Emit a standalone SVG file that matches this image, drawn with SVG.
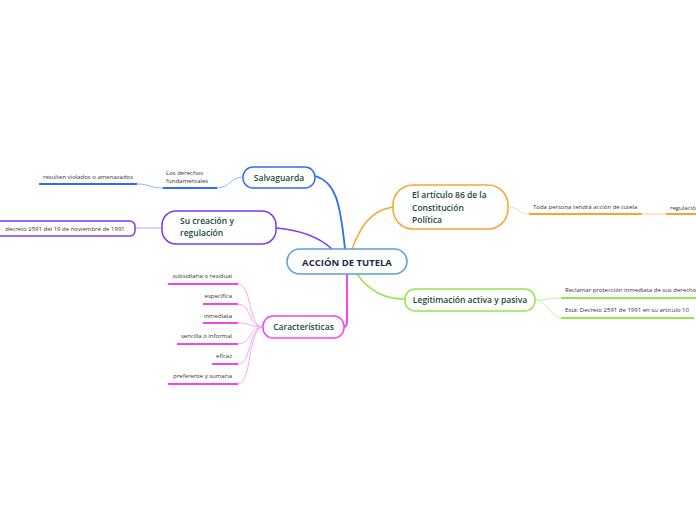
<svg xmlns="http://www.w3.org/2000/svg" width="696" height="520" viewBox="0 0 696 520">
<style>
.bg{fill:#fff}
.node{fill:#fff;stroke-width:1.5}
.t{font-family:"Open Sans","Noto Sans",sans-serif;font-size:8.5px;font-weight:600;fill:#17493a}
.tc{font-family:"Open Sans","Noto Sans",sans-serif;font-size:9.5px;font-weight:bold;fill:#1b2a4a}
.s{font-family:"Open Sans","Noto Sans",sans-serif;font-size:6px;fill:#333}
.c{fill:none}
</style>
<rect class="bg" width="696" height="520"/>
<g id="connectors">
<path class="c" d="M315,176 C335,182 340,200 345,249" stroke="#2f6ef2" stroke-width="1.8"/>
<path class="c" d="M276,228 C300,230 320,238 332,249" stroke="#7b3cf0" stroke-width="1.5"/>
<path class="c" d="M393,207 C370,210 360,228 352,249" stroke="#f7a531" stroke-width="1.5"/>
<path class="c" d="M357,274 C370,292 385,299 405,299" stroke="#93e84b" stroke-width="1.5"/>
<path class="c" d="M347,274 L347,320 Q347,327 344,327" stroke="#f045f0" stroke-width="2"/>
<path class="c" d="M243,177 C230,177 230,188 217,188" stroke="#8fb0f5" stroke-width="1"/>
<path class="c" d="M163,188 C150,188 150,184 137,184" stroke="#8fb0f5" stroke-width="1"/>
<path class="c" d="M162,228 L135,228" stroke="#b69cf3" stroke-width="1"/>
<path class="c" d="M508,207 C520,207 518,214 529,214" stroke="#fbd9a6" stroke-width="1"/>
<path class="c" d="M642,214 L666,214" stroke="#fde5c2" stroke-width="2"/>
<path class="c" d="M535,300 C548,300 550,298 561,298" stroke="#c6f2a3" stroke-width="1"/>
<path class="c" d="M535,300 C548,300 550,318 561,318" stroke="#c6f2a3" stroke-width="1"/>
<g stroke="#f7a8f7" stroke-width="1" fill="none">
<path d="M263,327 C248,327 252,284 238,284"/>
<path d="M263,327 C248,327 252,304 238,304"/>
<path d="M263,327 C248,327 252,323 238,323"/>
<path d="M263,327 C248,327 252,344 238,344"/>
<path d="M263,327 C248,327 252,364 238,364"/>
<path d="M263,327 C248,327 252,384 238,384"/>
</g>
</g>
<g id="central">
<rect class="node" x="287" y="249" width="120" height="25" rx="12.5" stroke="#5aa0da"/>
<text class="tc" x="347" y="265.5" text-anchor="middle">ACCIÓN DE TUTELA</text>
</g>
<g id="salvaguarda">
<rect class="node" x="243" y="167" width="72" height="21" rx="10" stroke="#2f6ef2"/>
<text class="t" x="279" y="180.5" text-anchor="middle">Salvaguarda</text>
</g>
<g id="derechos">
<text class="s" x="166" y="175">Los derechos</text>
<text class="s" x="166" y="183">fundamentales</text>
<line x1="163" y1="188" x2="217" y2="188" stroke="#2f6ef2" stroke-width="2"/>
</g>
<g id="violados">
<text class="s" x="43" y="179">resulten violados o amenazados</text>
<line x1="39" y1="184" x2="137" y2="184" stroke="#2f6ef2" stroke-width="2"/>
</g>
<g id="creacion">
<rect class="node" x="162" y="211" width="114" height="33" rx="14" stroke="#7b3cf0"/>
<text class="t" x="180" y="223.5">Su creación y</text>
<text class="t" x="180" y="236">regulación</text>
</g>
<g id="decreto">
<rect class="node" x="-6" y="221" width="141" height="15" rx="5" stroke="#7b3cf0"/>
<text class="s" x="65" y="230.5" text-anchor="middle">decreto 2591 del 19 de noviembre de 1991</text>
</g>
<g id="articulo">
<rect class="node" x="393" y="185" width="115" height="44" rx="20" stroke="#f7a531"/>
<text class="t" x="412" y="198">El artículo 86 de la</text>
<text class="t" x="412" y="210.5">Constitución</text>
<text class="t" x="412" y="223">Política</text>
</g>
<g id="toda">
<text class="s" x="533" y="209">Toda persona tendrá acción de tutela</text>
<line x1="529" y1="214" x2="642" y2="214" stroke="#f7a531" stroke-width="2"/>
</g>
<g id="regulacion">
<text class="s" x="670" y="210">regulación</text>
<line x1="666" y1="214" x2="696" y2="214" stroke="#f7a531" stroke-width="2"/>
</g>
<g id="legitimacion">
<rect class="node" x="405" y="289" width="130" height="22" rx="10" stroke="#93e84b"/>
<text class="t" x="470" y="303" text-anchor="middle">Legitimación activa y pasiva</text>
</g>
<g id="reclamar">
<text class="s" x="565" y="292">Reclamar protección inmediata de sus derechos</text>
<line x1="561" y1="298" x2="696" y2="298" stroke="#93e84b" stroke-width="2"/>
</g>
<g id="esta">
<text class="s" x="565" y="312">Está: Decreto 2591 de 1991 en su artículo 10</text>
<line x1="561" y1="318" x2="694" y2="318" stroke="#93e84b" stroke-width="2"/>
</g>
<g id="caracteristicas">
<rect class="node" x="263" y="316" width="81" height="22" rx="10" stroke="#f045f0"/>
<text class="t" x="303.5" y="330" text-anchor="middle">Características</text>
</g>
<g id="subsidiaria">
<text class="s" x="232" y="278" text-anchor="end">subsidiaria o residual</text>
<line x1="168" y1="284" x2="238" y2="284" stroke="#f045f0" stroke-width="2"/>
</g>
<g id="especifica">
<text class="s" x="232" y="298" text-anchor="end">específica</text>
<line x1="203" y1="304" x2="238" y2="304" stroke="#f045f0" stroke-width="2"/>
</g>
<g id="inmediata">
<text class="s" x="232" y="317.5" text-anchor="end">inmediata</text>
<line x1="203" y1="323" x2="238" y2="323" stroke="#f045f0" stroke-width="2"/>
</g>
<g id="sencilla">
<text class="s" x="232" y="338" text-anchor="end">sencilla o informal</text>
<line x1="177" y1="344" x2="238" y2="344" stroke="#f045f0" stroke-width="2"/>
</g>
<g id="eficaz">
<text class="s" x="232" y="358" text-anchor="end">eficaz</text>
<line x1="212" y1="364" x2="238" y2="364" stroke="#f045f0" stroke-width="2"/>
</g>
<g id="preferente">
<text class="s" x="232" y="378" text-anchor="end">preferente y sumaria</text>
<line x1="168" y1="384" x2="238" y2="384" stroke="#f045f0" stroke-width="2"/>
</g>
</svg>
